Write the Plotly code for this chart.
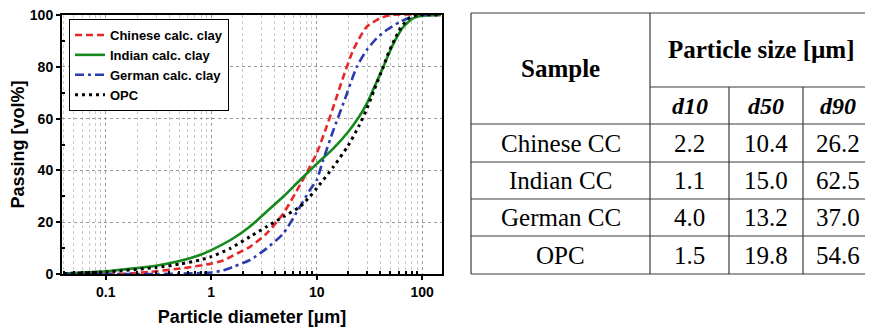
import numpy as np
import plotly.graph_objects as go

# ---------------- data ----------------
chinese_x = [0.04, 0.15, 0.26, 0.55, 1.0, 1.3, 1.62, 2.33, 3.36, 4.83, 6.95, 8.6, 10.0, 12.4, 14.4, 17.9, 22.2, 29.8, 39.8, 50, 150]
chinese_y = [0.0, 0.1, 0.8, 2.3, 4.0, 5.2, 7.2, 10.5, 15.7, 23.4, 34.4, 41.4, 46.6, 56.9, 64.6, 76.2, 86.5, 95.5, 98.7, 100, 100]

indian_x = [0.04, 0.1, 0.18, 0.3, 0.5, 0.78, 1.0, 1.62, 2.33, 3.36, 4.83, 6.95, 10.0, 14.4, 20.0, 25.0, 30.0, 35.0, 42.8, 50.0, 55.0, 65.0, 80.0, 100.0, 150.0]
indian_y = [0.2, 1.0, 2.1, 3.2, 5.0, 7.3, 9.2, 13.8, 18.3, 24.1, 29.9, 36.3, 42.5, 48.5, 55.0, 60.5, 66.0, 72.0, 80.0, 86.5, 90.0, 95.0, 98.5, 99.7, 100.0]

german_x = [0.04, 0.3, 0.5, 1.0, 1.3, 1.62, 2.33, 3.36, 4.83, 6.95, 8.6, 10.0, 11.5, 14.4, 17.9, 24.0, 29.8, 37.0, 46.0, 61.6, 82.0, 101.0, 150.0]
german_y = [0.0, 0.0, 0.1, 0.6, 1.4, 2.8, 5.4, 9.9, 15.7, 26.0, 32.4, 36.3, 44.0, 55.6, 65.9, 80.0, 86.5, 91.0, 94.2, 97.4, 99.4, 100.0, 100.0]

opc_x = [0.04, 0.1, 0.3, 0.5, 0.78, 1.0, 1.5, 2.33, 3.36, 4.83, 6.95, 8.6, 10.0, 14.4, 19.8, 25.0, 30.0, 35.0, 42.8, 48.0, 54.6, 62.6, 75.0, 90.0, 150.0]
opc_y = [0.2, 0.8, 2.5, 3.8, 5.4, 6.7, 9.8, 14.4, 18.3, 22.1, 26.0, 29.9, 33.1, 41.4, 49.5, 57.0, 64.0, 71.0, 80.0, 85.5, 90.5, 95.0, 98.8, 100.0, 100.0]

series_names = ["Chinese calc. clay", "Indian calc. clay", "German calc. clay", "OPC"]

x_tickvals = [0.1, 1, 10, 100]
x_ticktext = ["0.1", "1", "10", "100"]
x_minor_vals = [m * d for d in [0.01, 0.1, 1, 10, 100] for m in range(2, 10)]
y_tickvals = [0, 20, 40, 60, 80, 100]
y_minor_vals = [10, 30, 50, 70, 90]

table_samples = ["Chinese CC", "Indian CC", "German CC", "OPC"]
table_cols = ["d10", "d50", "d90"]
d10 = ["2.2", "1.1", "4.0", "1.5"]
d50 = ["10.4", "15.0", "13.2", "19.8"]
d90 = ["26.2", "62.5", "37.0", "54.6"]

# ---------------- layout geometry (screen pixels) ----------------
OFF = 8  # page body margin
SW, SH = 873, 331
P_L, P_R, P_T, P_B = 62, 442, 15, 274  # plot area in screen pixels
W, H = SW - OFF, SH - OFF
ML, MR, MT, MB = P_L - OFF, SW - P_R, P_T - OFF, SH - P_B
PW, PH = P_R - P_L, P_B - P_T


def px(x):
    return (x - P_L) / PW


def py(y):
    return (P_B - y) / PH


fig = go.Figure()
styles = [
    dict(color="#e8262a", width=2.6, dash="7px,4px"),
    dict(color="#14891c", width=2.6, dash="solid"),
    dict(color="#2b3cb0", width=2.6, dash="9px,4px,3px,4px"),
    dict(color="#000000", width=3, dash="3px,4px"),
]
for name, xs, ys, st in zip(series_names,
                            [chinese_x, indian_x, german_x, opc_x],
                            [chinese_y, indian_y, german_y, opc_y], styles):
    fig.add_trace(go.Scatter(x=xs, y=ys, mode="lines", name=name,
                             line=dict(shape="spline", smoothing=0.6, **st)))

tickfont = dict(family="Liberation Sans", size=14, color="black", weight="bold")
titlefont = dict(family="Liberation Sans", size=18, color="black", weight="bold")
fig.update_xaxes(type="log", range=[np.log10(0.0385), np.log10(154)], automargin=False,
                 tickvals=x_tickvals, ticktext=x_ticktext, tickfont=tickfont,
                 ticklabeloverflow="allow",
                 ticks="outside", ticklen=4, tickwidth=1.5, tickcolor="black",
                 showline=True, linecolor="black", linewidth=2, mirror=True,
                 showgrid=True, gridcolor="#9a9a9a", griddash="dot", gridwidth=1,
                 minor=dict(tickvals=x_minor_vals, ticks="inside", ticklen=3, tickcolor="black",
                            showgrid=True, gridcolor="#c8c8c8", griddash="dot", gridwidth=1),
                 zeroline=False,
                 title=dict(text="Particle diameter [µm]", standoff=12, font=titlefont))
fig.update_yaxes(range=[0, 100], tickvals=y_tickvals, tickfont=tickfont, automargin=False,
                 ticklabeloverflow="allow",
                 ticks="outside", ticklen=4, tickwidth=1.5, tickcolor="black",
                 showline=True, linecolor="black", linewidth=2, mirror=True,
                 showgrid=True, gridcolor="#9a9a9a", griddash="dot", gridwidth=1,
                 minor=dict(tickvals=y_minor_vals, ticks="inside", ticklen=3, tickcolor="black",
                            showgrid=False),
                 zeroline=False,
                 title=dict(text="Passing [vol%]", standoff=12, font=titlefont))

fig.update_layout(
    width=W, height=H,
    margin=dict(l=ML, r=MR, t=MT, b=MB, pad=0),
    paper_bgcolor="white", plot_bgcolor="white",
    showlegend=True,
    legend=dict(x=px(69), y=py(19), xanchor="left", yanchor="top",
                bgcolor="white", bordercolor="black", borderwidth=1,
                font=dict(family="Liberation Sans", size=13, color="black", weight="bold"),
                tracegroupgap=0, itemwidth=30),
)

# ---------------- table (drawn with shapes + annotations) ----------------
T_L, T_R = 471, 872
T_T, T_B = 13, 274
C1, C2, C3 = 650, 729, 803
R_SUB = 87
R_HEAD = 124
row_lines = [162, 199, 236]
lc = "#3a3a3a"
shapes = []


def hline(x0, x1, y):
    shapes.append(dict(type="line", xref="paper", yref="paper", x0=px(x0), x1=px(x1),
                       y0=py(y), y1=py(y), line=dict(color=lc, width=1.2)))


def vline(x, y0, y1):
    shapes.append(dict(type="line", xref="paper", yref="paper", x0=px(x), x1=px(x),
                       y0=py(y0), y1=py(y1), line=dict(color=lc, width=1.2)))


hline(T_L, T_R, T_T)
hline(T_L, T_R, T_B)
hline(C1, T_R, R_SUB)
hline(T_L, T_R, R_HEAD)
for r in row_lines:
    hline(T_L, T_R, r)
vline(T_L, T_T, T_B)
vline(T_R, T_T, T_B)
vline(C1, T_T, T_B)
vline(C2, R_SUB, T_B)
vline(C3, R_SUB, T_B)

serif = "Liberation Serif"
ann = []


def text(x, y, s, size=25, weight="normal", style="normal"):
    ann.append(dict(x=px(x), y=py(y), xref="paper", yref="paper", text=s, showarrow=False,
                    xanchor="center", yanchor="middle",
                    font=dict(family=serif, size=size, color="black", weight=weight, style=style)))


text((T_L + C1) / 2, (T_T + R_HEAD) / 2, "Sample", size=25, weight="bold")
text((C1 + T_R) / 2, (T_T + R_SUB) / 2, "Particle size [µm]", size=25, weight="bold")
col_centers = [(C1 + C2) / 2, (C2 + C3) / 2, (C3 + T_R) / 2]
for cx, c in zip(col_centers, table_cols):
    text(cx, (R_SUB + R_HEAD) / 2 + 1, c, size=24, weight="bold", style="italic")
row_edges = [R_HEAD] + row_lines + [T_B]
for i, s in enumerate(table_samples):
    cy = (row_edges[i] + row_edges[i + 1]) / 2
    text((T_L + C1) / 2, cy, s, size=25)
    for cx, vals in zip(col_centers, [d10, d50, d90]):
        text(cx, cy, vals[i], size=25)

fig.update_layout(shapes=shapes, annotations=ann)

fig.write_html("out.html")
